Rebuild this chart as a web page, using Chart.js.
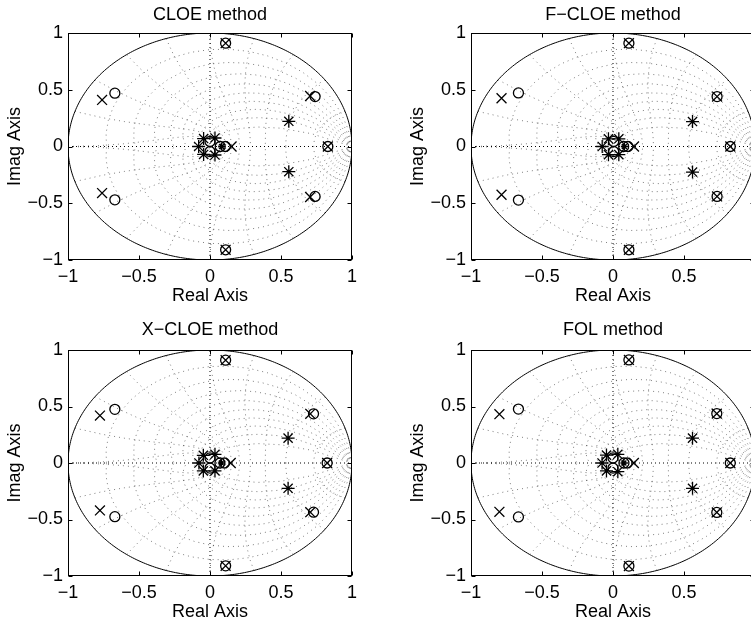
<!DOCTYPE html>
<html><head><meta charset="utf-8">
<script src="https://cdn.jsdelivr.net/npm/chart.js@4"></script>
<style>
html,body{margin:0;padding:0;background:#fff;overflow:hidden;width:751px;height:625px;}
canvas{position:absolute;}
</style></head><body>
<canvas id="c0" width="375" height="310" style="left:0px;top:0px"></canvas>
<canvas id="c1" width="375" height="310" style="left:403px;top:0px"></canvas>
<canvas id="c2" width="375" height="309" style="left:0px;top:317px"></canvas>
<canvas id="c3" width="375" height="309" style="left:403px;top:317px"></canvas>
<script>
// ---------- data ----------
const titles = ['CLOE method', 'F\u2212CLOE method', 'X\u2212CLOE method', 'FOL method'];
const tickValues = [-1, -0.5, 0, 0.5, 1];
const tickLabels = ['\u22121', '\u22120.5', '0', '0.5', '1'];
const xAxisTitle = 'Real Axis';
const yAxisTitle = 'Imag Axis';
// z-plane grid parameters (damping ratios, natural frequencies as fractions of pi)
const zetaLines = [0.1, 0.2, 0.3, 0.4, 0.5, 0.6, 0.7, 0.8, 0.9];
const wnCurves = [0.1, 0.2, 0.3, 0.4, 0.5, 0.6, 0.7, 0.8, 0.9, 1.0];

// [real, imag] pairs per marker type
const cloeCross  = [[-0.76,0.41],[-0.76,-0.41],[0.705,0.445],[0.705,-0.445],[0.11,0.91],[0.11,-0.91],[0.83,0],[0.152,0]];
const cloeCircle = [[-0.67,0.47],[-0.67,-0.47],[0.74,0.44],[0.74,-0.44],[0.11,0.91],[0.11,-0.91],[0.83,0],[0.108,0],[0.072,0],[0.0,0.045],[0.0,-0.045]];
const cloeStar   = [[-0.045,0.07],[-0.045,-0.07],[0.035,0.075],[0.035,-0.075],[-0.08,0],[0.555,0.222],[0.555,-0.222]];
const cloeDot    = [[0.082,0]];

const fcloeCross  = [[-0.785,0.425],[-0.785,-0.425],[0.733,0.44],[0.733,-0.44],[0.112,0.91],[0.112,-0.91],[0.826,0],[0.148,0]];
const fcloeCircle = [[-0.666,0.472],[-0.666,-0.472],[0.733,0.44],[0.733,-0.44],[0.112,0.91],[0.112,-0.91],[0.826,0],[0.105,0],[0.075,0],[0.005,0.045],[0.005,-0.045]];
const fcloeStar   = [[-0.032,0.068],[-0.032,-0.072],[0.041,0.068],[0.041,-0.072],[-0.076,0],[0.56,0.22],[0.56,-0.225]];
const fcloeDot    = [[0.08,0]];

const xcloeCross  = [[-0.775,0.42],[-0.775,-0.42],[0.706,0.435],[0.706,-0.435],[0.11,0.91],[0.11,-0.91],[0.825,0],[0.146,0]];
const xcloeCircle = [[-0.67,0.475],[-0.67,-0.475],[0.729,0.435],[0.729,-0.435],[0.11,0.91],[0.11,-0.91],[0.825,0],[0.102,0],[0.07,0],[0.0,0.045],[0.0,-0.045]];
const xcloeStar   = [[-0.047,0.068],[-0.047,-0.07],[0.035,0.077],[0.035,-0.07],[-0.078,0],[0.55,0.22],[0.55,-0.224]];
const xcloeDot    = [[0.08,0]];

const folCross  = [[-0.80,0.432],[-0.80,-0.432],[0.731,0.437],[0.731,-0.437],[0.112,0.912],[0.112,-0.912],[0.826,0],[0.147,0]];
const folCircle = [[-0.666,0.477],[-0.666,-0.477],[0.731,0.437],[0.731,-0.437],[0.112,0.912],[0.112,-0.912],[0.826,0],[0.1,0],[0.077,0],[0.0,0.045],[0.0,-0.045]];
const folStar   = [[-0.046,0.07],[-0.046,-0.07],[0.034,0.077],[0.034,-0.077],[-0.077,0],[0.56,0.22],[0.56,-0.224]];
const folDot    = [[0.077,0]];

const methodData = [
  [cloeCross, cloeCircle, cloeStar, cloeDot],
  [fcloeCross, fcloeCircle, fcloeStar, fcloeDot],
  [xcloeCross, xcloeCircle, xcloeStar, xcloeDot],
  [folCross, folCircle, folStar, folDot]
];

// ---------- drawing ----------
const FONT = "'Liberation Sans', Arial, Helvetica, sans-serif";

const zgridPlugin = {
  id: 'zgrid',
  beforeDatasetsDraw(chart) {
    const {ctx, chartArea: a} = chart;
    const xs = chart.scales.x, ys = chart.scales.y;
    const px = v => xs.getPixelForValue(v), py = v => ys.getPixelForValue(v);
    const path = pts => {
      ctx.beginPath();
      pts.forEach((p, i) => i ? ctx.lineTo(px(p[0]), py(p[1])) : ctx.moveTo(px(p[0]), py(p[1])));
      ctx.stroke();
    };
    ctx.save();
    ctx.beginPath();
    ctx.rect(a.left, a.top, a.right - a.left, a.bottom - a.top);
    ctx.clip();
    ctx.lineWidth = 1;
    ctx.setLineDash([1, 4]);
    ctx.strokeStyle = 'rgba(0,0,0,0.5)';
    // constant damping spirals
    zetaLines.forEach(z => {
      const m = z / Math.sqrt(1 - z * z);
      const up = [], dn = [];
      for (let i = 0; i <= 20; i++) {
        const w = Math.PI * i / 20, r = Math.exp(-m * w);
        up.push([r * Math.cos(w), r * Math.sin(w)]);
        dn.push([r * Math.cos(w), -r * Math.sin(w)]);
      }
      path(up); path(dn);
    });
    // constant natural frequency curves
    wnCurves.forEach(k => {
      const wn = k * Math.PI;
      const up = [], dn = [];
      for (let i = 0; i <= 20; i++) {
        const t = Math.PI / 2 + (Math.PI / 2) * i / 20;
        const r = Math.exp(wn * Math.cos(t)), ang = wn * Math.sin(t);
        up.push([r * Math.cos(ang), r * Math.sin(ang)]);
        dn.push([r * Math.cos(ang), -r * Math.sin(ang)]);
      }
      path(up); path(dn);
    });
    // dotted axis lines
    ctx.strokeStyle = '#000';
    ctx.setLineDash([1, 3]);
    path([[-1, 0], [1, 0]]);
    path([[0, -1], [0, 1]]);
    // unit circle
    ctx.setLineDash([]);
    ctx.strokeStyle = '#000';
    const uc = [];
    for (let i = 0; i <= 360; i++) { const t = 2 * Math.PI * i / 360; uc.push([Math.cos(t), Math.sin(t)]); }
    path(uc);
    ctx.restore();
  },
  afterDatasetsDraw(chart) {
    const {ctx, chartArea: a} = chart;
    const xs = chart.scales.x, ys = chart.scales.y;
    ctx.save();
    ctx.strokeStyle = '#000';
    ctx.lineWidth = 1;
    ctx.setLineDash([]);
    const L = Math.round(a.left) + 0.5, R = Math.round(a.right) - 0.5;
    const T = Math.round(a.top) + 0.5, B = Math.round(a.bottom) - 0.5;
    ctx.strokeRect(L, T, R - L, B - T);
    const tl = 4;
    ctx.beginPath();
    tickValues.forEach(v => {
      const X = Math.round(xs.getPixelForValue(v)) + 0.5;
      ctx.moveTo(X, B); ctx.lineTo(X, B - tl);
      ctx.moveTo(X, T); ctx.lineTo(X, T + tl);
      const Y = Math.round(ys.getPixelForValue(v)) + 0.5;
      ctx.moveTo(L, Y); ctx.lineTo(L + tl, Y);
      ctx.moveTo(R, Y); ctx.lineTo(R - tl, Y);
    });
    ctx.stroke();
    ctx.restore();
  }
};

const pts = arr => arr.map(p => ({x: p[0], y: p[1]}));
function dset(arr, style, radius) {
  return {
    data: pts(arr), pointStyle: style, pointRadius: radius,
    borderColor: '#000', backgroundColor: 'rgba(0,0,0,0)',
    pointBorderColor: '#000', pointBackgroundColor: 'rgba(0,0,0,0)',
    pointBorderWidth: 1.3, showLine: false, clip: false
  };
}

function makeChart(id, idx, titlePad) {
  const [cross, circ, star, dot] = methodData[idx];
  return new Chart(document.getElementById(id), {
    type: 'scatter',
    data: {
      datasets: [
        dset(circ, 'circle', 5),
        dset(cross, 'crossRot', 7),
        dset(star, 'star', 6.5),
        dset(dot, 'star', 3.5)
      ]
    },
    options: {
      responsive: false, maintainAspectRatio: false, animation: false, devicePixelRatio: 1,
      events: [],
      layout: {padding: {left: 0, right: 23, top: 0, bottom: 0}},
      plugins: {
        legend: {display: false}, tooltip: {enabled: false},
        title: {
          display: true, fullSize: false, text: titles[idx], color: '#000',
          font: {family: FONT, size: 18, weight: 'normal', lineHeight: 1.2},
          padding: titlePad
        }
      },
      scales: {
        x: {
          type: 'linear', min: -1, max: 1,
          afterBuildTicks: s => { s.ticks = tickValues.map(v => ({value: v})); },
          afterFit: s => { s.height = 50; },
          ticks: {callback: (v, i) => tickLabels[i], padding: 6, color: '#000', maxRotation: 0, autoSkip: false,
                  font: {family: FONT, size: 18}},
          grid: {display: false, drawTicks: false},
          border: {display: false},
          title: {display: true, text: xAxisTitle, color: '#000',
                  font: {family: FONT, size: 18, lineHeight: 1.2}, padding: {top: 0, bottom: 3}}
        },
        y: {
          type: 'linear', min: -1, max: 1,
          afterBuildTicks: s => { s.ticks = tickValues.map(v => ({value: v})); },
          afterFit: s => { s.width = 68; },
          ticks: {callback: (v, i) => tickLabels[i], padding: 5, color: '#000', autoSkip: false,
                  font: {family: FONT, size: 18}},
          grid: {display: false, drawTicks: false},
          border: {display: false},
          title: {display: true, text: yAxisTitle, color: '#000',
                  font: {family: FONT, size: 18, lineHeight: 1.2}, padding: {top: 4, bottom: 0}}
        }
      }
    },
    plugins: [zgridPlugin]
  });
}

makeChart('c0', 0, {top: 4.2, bottom: 7.2});
makeChart('c1', 1, {top: 4.2, bottom: 7.2});
makeChart('c2', 2, {top: 2.2, bottom: 9.2});
makeChart('c3', 3, {top: 2.2, bottom: 9.2});
</script>
</body></html>
